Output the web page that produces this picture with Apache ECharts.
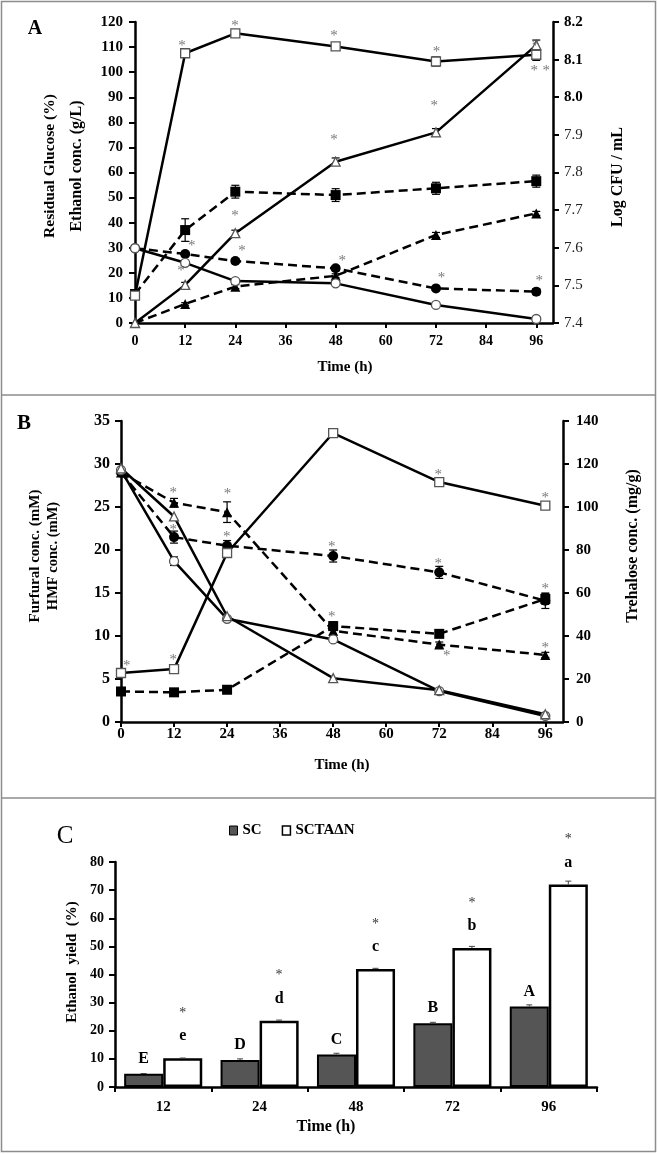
<!DOCTYPE html>
<html>
<head>
<meta charset="utf-8">
<script src="https://cdn.jsdelivr.net/npm/echarts@6/dist/echarts.min.js"></script>
<style>html,body{margin:0;padding:0;background:#fff;}#c{width:659px;height:1154px;}</style>
</head>
<body>
<div id="c"></div>
<script>
// ---------- DATA ----------
const timeA = [0, 12, 24, 48, 72, 96];
const timeTicks = [0, 12, 24, 36, 48, 60, 72, 84, 96];
// Panel A
const aOpenSquare = [7.473, 8.117, 8.170, 8.135, 8.095, 8.113];      // Log CFU/mL (right)
const aFilledSquare = [7.477, 7.647, 7.749, 7.740, 7.758, 7.777];    // Log CFU/mL (right)
const aOpenTriangle = [0, 15.2, 35.8, 64.3, 76.0, 110.8];
const aFilledTriangle = [0, 7.6, 14.5, 18.8, 35.1, 43.7];
const aFilledCircle = [29.8, 27.5, 24.7, 21.8, 13.8, 12.5];
const aOpenCircle = [29.8, 24.0, 16.7, 15.8, 7.2, 1.6];
const aErrOpenSquare = [0, 0.008, 0.008, 0.008, 0.012, 0.015];
const aErrFilledSquare = [0.01, 0.03, 0.017, 0.017, 0.016, 0.016];
const aErrOpenTriangle = [0, 1, 1.2, 1.5, 1.5, 2];
const aErrFilledTriangle = [0, 0.5, 0.8, 0.8, 1.0, 0.8];
const aErrFilledCircle = [0, 1, 1, 1, 0.8, 1.2];
const aStarX = [11.25, 23.9, 47.6, 72.1, 95.5, 98.4, 95.8, 11.0, 23.9, 47.6, 71.6, 13.6, 25.6, 49.6, 73.3, 96.7];
const aStarY = [111.6, 119.6, 115.6, 109.2, 101.7, 101.7, 111.6, 21.9, 43.9, 74.2, 87.7, 31.9, 29.9, 25.9, 19.1, 17.9];
const aLeftTicks = [0, 120, 10];
const aRightTicks = [7.4, 8.2, 0.1];
// Panel B
const bOpenSquare = [22.8, 24.6, 78.6, 134.4, 111.6, 100.6];          // Trehalose (right)
const bFilledSquare = [14.2, 13.8, 15.0, 44.6, 41.0, 57.2];          // Trehalose (right)
const bFilledTriangle = [29.0, 25.5, 24.4, 10.6, 9.0, 7.8];
const bFilledCircle = [29.0, 21.5, 20.5, 19.3, 17.4, 14.1];
const bOpenCircle = [29.3, 18.7, 12.0, 9.6, 3.6, 0.7];
const bOpenTriangle = [29.5, 23.9, 12.3, 5.1, 3.7, 0.9];
const bErrFilledTriangle = [0, 0.5, 1.2, 0.5, 0.3, 0.3];
const bErrFilledCircle = [0, 0.7, 0.6, 0.7, 0.7, 0.9];
const bErrFilledSquare = [0, 0, 0, 2, 1.5, 2.5];
const bErrOpenSquare = [0, 0, 0, 1, 1.5, 1];
const bErrOpenCircle = [0, 0.5, 0, 0, 0, 0];
const bStarX = [1.3, 11.8, 11.8, 24.1, 11.8, 23.9, 47.7, 71.8, 96, 47.7, 71.8, 96, 47.7, 73.7, 96];
const bStarY = [6.9, 7.6, 27.0, 26.8, 22.7, 21.8, 35.1, 29.1, 26.4, 20.7, 18.7, 15.8, 12.6, 8.0, 9.0];
const bLeftTicks = [0, 35, 5];
const bRightTicks = [0, 140, 20];
// Panel C
const cCategories = ['12', '24', '48', '72', '96'];
const cSC = [4.7, 9.6, 11.6, 22.7, 28.6];
const cSCTA = [10.2, 23.6, 42.0, 49.4, 72.0];
const cErrSC = [0.1, 0.4, 0.4, 0.3, 0.6];
const cErrSCTA = [0.1, 0.2, 0.2, 0.6, 1.2];
const cSCLetters = ['E', 'D', 'C', 'B', 'A'];
const cSCTALetters = ['e', 'd', 'c', 'b', 'a'];
const cTicks = [0, 80, 10];

// ---------- HELPERS ----------
const F = '"Liberation Serif", "Times New Roman", serif';
const zip = (xs, ys) => xs.map((x, i) => [x, ys[i]]);

function lineSeries(name, xIdx, yIdx, ys, symbol, filled, dashed) {
  return {
    name, type: 'line', xAxisIndex: xIdx, yAxisIndex: yIdx,
    data: zip(timeA, ys), symbol, symbolSize: filled ? 10 : 9, showAllSymbol: true,
    lineStyle: { color: '#000', width: 2.5, type: dashed ? [9, 5] : 'solid' },
    itemStyle: filled ? { color: '#000', borderColor: '#000', borderWidth: 0 }
                      : { color: '#fff', borderColor: '#555', borderWidth: 1.3 },
    z: filled ? 3 : 4, silent: true, clip: false
  };
}
function errSeries(xIdx, yIdx, ys, es) {
  const data = [];
  timeA.forEach((x, i) => { if (es[i] > 0) data.push([x, ys[i], es[i]]); });
  return {
    type: 'custom', xAxisIndex: xIdx, yAxisIndex: yIdx, data, z: 2, silent: true,
    renderItem(params, api) {
      const x = api.value(0), y = api.value(1), e = api.value(2);
      const p1 = api.coord([x, y + e]), p2 = api.coord([x, y - e]);
      const w = 4, st = { stroke: '#000', lineWidth: 1.2 };
      return { type: 'group', children: [
        { type: 'line', shape: { x1: p1[0], y1: p1[1], x2: p2[0], y2: p2[1] }, style: st },
        { type: 'line', shape: { x1: p1[0] - w, y1: p1[1], x2: p1[0] + w, y2: p1[1] }, style: st },
        { type: 'line', shape: { x1: p2[0] - w, y1: p2[1], x2: p2[0] + w, y2: p2[1] }, style: st }
      ]};
    }
  };
}
function starSeries(xIdx, yIdx, xs, ys) {
  return {
    type: 'scatter', xAxisIndex: xIdx, yAxisIndex: yIdx, data: zip(xs, ys),
    symbol: 'circle', symbolSize: 1, itemStyle: { color: 'rgba(0,0,0,0)' }, z: 6, silent: true,
    label: { show: true, position: 'inside', formatter: '*', offset: [0, 3],
      fontFamily: F, fontSize: 15, color: '#555' }
  };
}
function cErr(ys, es, side) {
  return {
    type: 'custom', xAxisIndex: 2, yAxisIndex: 4, z: 5, silent: true,
    data: ys.map((y, i) => [i, y, es[i]]),
    renderItem(params, api) {
      const i = api.value(0), y = api.value(1), e = api.value(2);
      const band = api.size([1, 0])[0];
      const bw = band * 0.81 / 2;
      const c1 = api.coord([i, y + e]), c2 = api.coord([i, y]);
      const x = c1[0] + side * bw / 2, w = 3, st = { stroke: '#444', lineWidth: 1 };
      return { type: 'group', children: [
        { type: 'line', shape: { x1: x, y1: c1[1], x2: x, y2: c2[1] }, style: st },
        { type: 'line', shape: { x1: x - w, y1: c1[1], x2: x + w, y2: c1[1] }, style: st }
      ]};
    }
  };
}
const axisLine = { show: true, onZero: false, lineStyle: { color: '#000', width: 2.5 } };
function valX(gridIndex, size, margin) {
  return {
    type: 'value', gridIndex, min: 0, max: 100, interval: 12,
    axisLine, splitLine: { show: false },
    axisTick: { show: true, length: 5, customValues: timeTicks, lineStyle: { color: '#000', width: 2 } },
    axisLabel: { customValues: timeTicks, margin, color: '#000', fontFamily: F, fontWeight: 'bold', fontSize: size,
      formatter: v => (v % 12 === 0 && v <= 96) ? String(v) : '' }
  };
}
function valY(gridIndex, t, position, size, margin, extraLabel) {
  return {
    type: 'value', gridIndex, position, min: t[0], max: t[1], interval: t[2],
    axisLine, splitLine: { show: false },
    axisTick: { show: true, length: 6, lineStyle: { color: '#000', width: 2 } },
    axisLabel: Object.assign({ margin, color: '#000', fontFamily: F, fontWeight: 'bold', fontSize: size }, extraLabel || {})
  };
}
function vtext(text, x, y, size, rot) {
  return { type: 'text', x, y, rotation: rot === undefined ? Math.PI / 2 : rot, silent: true,
    style: { text, fill: '#000', font: 'bold ' + size + 'px ' + F, align: 'center', verticalAlign: 'middle' } };
}

// ---------- CHART ----------
const chart = echarts.init(document.getElementById('c'), null, { renderer: 'canvas' });
chart.setOption({
  animation: false,
  backgroundColor: '#fff',
  grid: [
    { left: 135, right: 106, top: 22, bottom: 831 },
    { left: 121, right: 96, top: 421, bottom: 432 },
    { left: 115, right: 62, top: 862, bottom: 67 }
  ],
  legend: {
    show: true, left: 229, top: 823, itemWidth: 8, itemHeight: 9, itemGap: 20, padding: 0,
    icon: 'rect', textStyle: { fontFamily: F, fontWeight: 'bold', fontSize: 15, color: '#000' },
    data: [
      { name: 'SC', itemStyle: { color: '#555', borderColor: '#000', borderWidth: 1 } },
      { name: 'SCTAΔN', itemStyle: { color: '#fff', borderColor: '#000', borderWidth: 1.5 } }
    ]
  },
  xAxis: [
    valX(0, 14, 11),
    valX(1, 15, 5),
    { type: 'category', gridIndex: 2, data: cCategories, boundaryGap: true,
      axisLine, splitLine: { show: false },
      axisTick: { show: true, length: 5, alignWithLabel: false, lineStyle: { color: '#000', width: 2 } },
      axisLabel: { margin: 13, color: '#000', fontFamily: F, fontWeight: 'bold', fontSize: 15 } }
  ],
  yAxis: [
    valY(0, aLeftTicks, 'left', 15, 12),
    valY(0, aRightTicks, 'right', 15, 11, {
      formatter: v => { const s = v.toFixed(1); return v > 7.95 ? '{b|' + s + '}' : '{n|' + s + '}'; },
      rich: { b: { fontFamily: F, fontWeight: 'bold', fontSize: 15, color: '#000' },
              n: { fontFamily: F, fontWeight: 'normal', fontSize: 15, color: '#222' } }
    }),
    valY(1, bLeftTicks, 'left', 16, 11),
    valY(1, bRightTicks, 'right', 15, 13),
    valY(2, cTicks, 'left', 14, 11)
  ],
  graphic: [
    { type: 'rect', silent: true, shape: { x: 1.5, y: 1.5, width: 654, height: 1150 },
      style: { fill: 'none', stroke: '#8c8c8c', lineWidth: 1.5 } },
    { type: 'line', silent: true, shape: { x1: 1, y1: 395, x2: 656, y2: 395 }, style: { stroke: '#8c8c8c', lineWidth: 1.5 } },
    { type: 'line', silent: true, shape: { x1: 1, y1: 798, x2: 656, y2: 798 }, style: { stroke: '#8c8c8c', lineWidth: 1.5 } },
    vtext('A', 35, 29, 20, 0),
    vtext('B', 24, 424, 21, 0),
    { type: 'text', x: 65, y: 836, silent: true,
      style: { text: 'C', fill: '#000', font: 'normal 25px ' + F, align: 'center', verticalAlign: 'middle' } },
    vtext('Residual Glucose (%)', 50, 166, 15.5),
    vtext('Ethanol conc. (g/L)', 77, 166, 16),
    vtext('Log CFU / mL', 618, 177, 16),
    vtext('Time (h)', 345, 367, 15, 0),
    vtext('Furfural conc. (mM)', 35, 556, 15),
    vtext('HMF conc. (mM)', 53, 556, 14.5),
    vtext('Trehalose conc. (mg/g)', 633, 546, 16),
    vtext('Time (h)', 342, 765, 15, 0),
    vtext('Ethanol  yield  (%)', 72, 962, 15),
    vtext('Time (h)', 326, 1127, 16, 0)
  ],
  series: [
    // Panel A
    errSeries(0, 1, aOpenSquare, aErrOpenSquare),
    errSeries(0, 1, aFilledSquare, aErrFilledSquare),
    errSeries(0, 0, aOpenTriangle, aErrOpenTriangle),
    errSeries(0, 0, aFilledTriangle, aErrFilledTriangle),
    errSeries(0, 0, aFilledCircle, aErrFilledCircle),
    lineSeries('A open square', 0, 1, aOpenSquare, 'rect', false, false),
    lineSeries('A filled square', 0, 1, aFilledSquare, 'rect', true, true),
    lineSeries('A open triangle', 0, 0, aOpenTriangle, 'triangle', false, false),
    lineSeries('A filled triangle', 0, 0, aFilledTriangle, 'triangle', true, true),
    lineSeries('A filled circle', 0, 0, aFilledCircle, 'circle', true, true),
    lineSeries('A open circle', 0, 0, aOpenCircle, 'circle', false, false),
    starSeries(0, 0, aStarX, aStarY),
    // Panel B
    errSeries(1, 2, bFilledTriangle, bErrFilledTriangle),
    errSeries(1, 2, bFilledCircle, bErrFilledCircle),
    errSeries(1, 3, bFilledSquare, bErrFilledSquare),
    errSeries(1, 3, bOpenSquare, bErrOpenSquare),
    errSeries(1, 2, bOpenCircle, bErrOpenCircle),
    lineSeries('B open square', 1, 3, bOpenSquare, 'rect', false, false),
    lineSeries('B filled square', 1, 3, bFilledSquare, 'rect', true, true),
    lineSeries('B filled triangle', 1, 2, bFilledTriangle, 'triangle', true, true),
    lineSeries('B filled circle', 1, 2, bFilledCircle, 'circle', true, true),
    lineSeries('B open circle', 1, 2, bOpenCircle, 'circle', false, false),
    lineSeries('B open triangle', 1, 2, bOpenTriangle, 'triangle', false, false),
    starSeries(1, 2, bStarX, bStarY),
    // Panel C
    { name: 'SC', type: 'bar', xAxisIndex: 2, yAxisIndex: 4, data: cSC,
      barGap: '0%', barCategoryGap: '19%', silent: true,
      itemStyle: { color: '#555', borderColor: '#000', borderWidth: 2 },
      label: { show: true, position: 'top', distance: 7, color: '#000', fontFamily: F, fontWeight: 'bold', fontSize: 16,
        formatter: p => cSCLetters[p.dataIndex] } },
    { name: 'SCTAΔN', type: 'bar', xAxisIndex: 2, yAxisIndex: 4, data: cSCTA,
      barGap: '0%', barCategoryGap: '19%', silent: true,
      itemStyle: { color: '#fff', borderColor: '#000', borderWidth: 2.5 },
      label: { show: true, position: 'top', distance: 11,
        formatter: p => '{s|*}\n{l|' + cSCTALetters[p.dataIndex] + '}',
        rich: { s: { fontFamily: F, fontSize: 14, color: '#333', lineHeight: 24, align: 'center' },
                l: { fontFamily: F, fontWeight: 'bold', fontSize: 16, color: '#000', lineHeight: 22, align: 'center' } } } },
    cErr(cSC, cErrSC, -1),
    cErr(cSCTA, cErrSCTA, 1)
  ]
});
</script>
</body>
</html>
